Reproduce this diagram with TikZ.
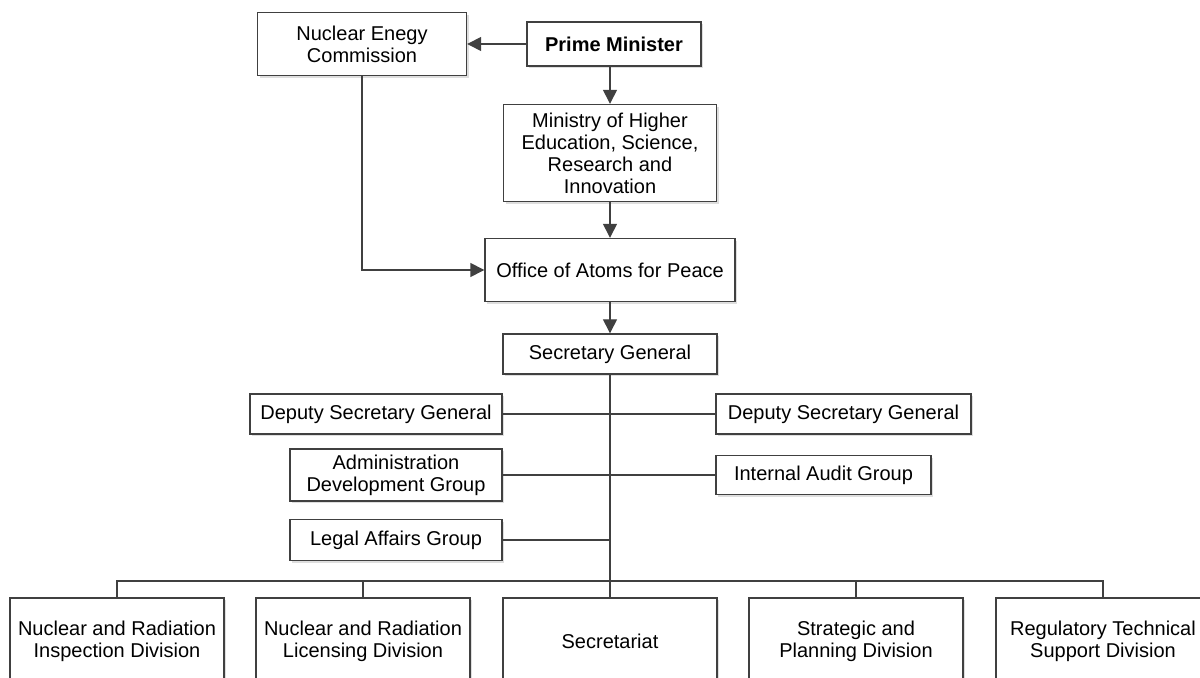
\documentclass[tikz,border=0pt]{standalone}
\usepackage{fontspec}
\setmainfont{Liberation Sans}
\usetikzlibrary{positioning, arrows.meta, shadows}

\tikzset{
  box/.style={draw=black!75, line width=0.7pt, fill=white, align=center, inner sep=1pt,
    font=\fontsize{10}{11}\selectfont,
    drop shadow={shadow xshift=1.2pt, shadow yshift=-1.2pt, fill=black!25}},
  link/.style={draw=black!75, line width=0.7pt},
  arr/.style={link, -{Triangle[length=7pt, width=7pt]}},
}

\begin{document}
\begin{tikzpicture}[x=0.5pt, y=-0.5pt]
    \clip (0,0) rectangle (1200,678);
    \fill[white] (0,0) rectangle (1200,678);
    % top of the chart
    \node[box, minimum width=104.5pt, minimum height=31.5pt] (nec) at (362,44) {Nuclear Enegy\\Commission};
    \node[box, minimum width=87pt, minimum height=22pt, font=\fontsize{10}{11}\selectfont\bfseries] (pm) at (614,44) {Prime Minister};
    \node[box, minimum width=106.5pt, minimum height=48.5pt] (ministry) at (610,153) {Ministry of Higher\\Education, Science,\\Research and\\Innovation};
    \node[box, minimum width=125pt, minimum height=31.5pt] (oap) at (610,270) {Office of Atoms for Peace};
    \node[box, minimum width=107pt, minimum height=20pt] (secgen) at (610,354) {Secretary General};
    % staff units
    \node[box, minimum width=126pt, minimum height=20pt] (dsgl) at (376,414) {Deputy Secretary General};
    \node[box, minimum width=127.5pt, minimum height=20pt] (dsgr) at (843.5,414) {Deputy Secretary General};
    \node[box, minimum width=106pt, minimum height=26pt] (adg) at (396,475) {Administration\\Development Group};
    \node[box, minimum width=107.5pt, minimum height=19.5pt] (iag) at (823.5,475) {Internal Audit Group};
    \node[box, minimum width=106pt, minimum height=20.5pt] (lag) at (396,540) {Legal Affairs Group};
    % divisions
    \node[box, minimum width=107pt, minimum height=43pt] (div1) at (117,641) {Nuclear and Radiation\\Inspection Division};
    \node[box, minimum width=107pt, minimum height=43pt] (div2) at (363,641) {Nuclear and Radiation\\Licensing Division};
    \node[box, minimum width=107pt, minimum height=43pt] (div3) at (610,641) {Secretariat};
    \node[box, minimum width=107pt, minimum height=43pt] (div4) at (856,641) {Strategic and\\Planning Division};
    \node[box, minimum width=107pt, minimum height=43pt] (div5) at (1103,641) {Regulatory Technical\\Support Division};
    \coordinate (bus) at (610,581);

    \draw[arr] (pm) -- (nec);
    \draw[arr] (pm.south -| ministry.north) -- (ministry.north);
    \draw[arr] (ministry) -- (oap);
    \draw[arr] (nec.south) |- (oap.west);
    \draw[arr] (oap) -- (secgen);
    \draw[link] (secgen.south) -- (bus);
    \draw[link] (dsgl.east) -- (dsgr.west);
    \draw[link] (adg.east) -- (iag.west);
    \draw[link] (lag.east) -- (lag.east -| bus);
    \draw[link] (div1.north) |- (div5.north |- bus) -- (div5.north);
    \foreach \d in {div2,div3,div4}
        \draw[link] (\d.north) -- (\d.north |- bus);
\end{tikzpicture}
\end{document}
